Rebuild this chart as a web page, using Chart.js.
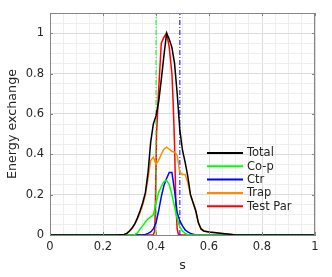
<!DOCTYPE html>
<html>
<head>
<meta charset="utf-8">
<script src="https://cdn.jsdelivr.net/npm/chart.js@4/dist/chart.umd.min.js"></script>
<style>
html,body{margin:0;padding:0;background:#fff;}
#wrap{width:332px;height:277px;}
</style>
</head>
<body>
<div id="wrap"><canvas id="c" width="332" height="277"></canvas></div>
<script>
// ---- data ----
const s = [0, 0.25, 0.28, 0.29, 0.30, 0.31, 0.32, 0.33, 0.34, 0.35, 0.36, 0.37, 0.38, 0.39, 0.40, 0.41, 0.42, 0.43, 0.44, 0.45, 0.46, 0.47, 0.48, 0.49, 0.50, 0.51, 0.52, 0.53, 0.54, 0.55, 0.56, 0.57, 0.58, 0.60, 0.62, 0.65, 0.68, 0.70, 1];
const total = [0, 0, 0.003, 0.008, 0.02, 0.035, 0.055, 0.085, 0.12, 0.16, 0.21, 0.31, 0.46, 0.55, 0.59, 0.66, 0.77, 0.89, 1.0, 0.97, 0.93, 0.85, 0.70, 0.52, 0.42, 0.36, 0.29, 0.20, 0.16, 0.12, 0.06, 0.03, 0.02, 0.015, 0.012, 0.008, 0.004, 0, 0];
const coP = [0, 0, 0, 0, 0, 0, 0.003, 0.01, 0.03, 0.045, 0.065, 0.08, 0.09, 0.10, 0.16, 0.21, 0.24, 0.265, 0.27, 0.25, 0.20, 0.14, 0.08, 0.04, 0.02, 0.008, 0.003, 0, 0, 0, 0, 0, 0, 0, 0, 0, 0, 0, 0];
const ctr = [0, 0, 0, 0, 0, 0, 0, 0, 0, 0, 0.003, 0.008, 0.015, 0.03, 0.06, 0.12, 0.19, 0.245, 0.28, 0.31, 0.31, 0.22, 0.11, 0.07, 0.045, 0.025, 0.015, 0.008, 0.004, 0, 0, 0, 0, 0, 0, 0, 0, 0, 0];
const trap = [0, 0, 0.003, 0.008, 0.02, 0.035, 0.055, 0.08, 0.11, 0.15, 0.20, 0.28, 0.37, 0.385, 0.35, 0.37, 0.40, 0.425, 0.435, 0.425, 0.415, 0.41, 0.395, 0.31, 0.30, 0.30, 0.26, 0.20, 0.16, 0.12, 0.06, 0.03, 0.02, 0.014, 0.011, 0.007, 0.003, 0, 0];
const sTestPar = [0, 0.39, 0.395, 0.397, 0.402, 0.41, 0.42, 0.43, 0.44, 0.45, 0.46, 0.465, 0.47, 0.475, 0.48, 0.485, 1];
const testPar = [0, 0, 0.02, 0.10, 0.50, 0.72, 0.95, 0.98, 1.0, 0.93, 0.80, 0.65, 0.45, 0.15, 0.03, 0, 0];
const vLineCoP = 0.40;
const vLineCtr = 0.49;
const seriesLabels = ['Total', 'Co-p', 'Ctr', 'Trap', 'Test Par'];
const seriesColors = ['#000000', '#00ff00', '#0000ff', '#ff8c00', '#ff0000'];
const xTickLabels = ['0', '0.2', '0.4', '0.6', '0.8', '1'];
const yTickLabels = ['0', '0.2', '0.4', '0.6', '0.8', '1'];
const xTitle = 's';
const yTitle = 'Energy exchange';

// ---- build ----
const pts = (xs, ys) => xs.map((x, i) => ({x: x, y: ys[i]}));
const FONT = 'DejaVu Sans';
const TXT = '#262626';
const isMajor = v => Math.abs(v / 0.2 - Math.round(v / 0.2)) < 1e-6;
const majorLabel = (v, labels) => isMajor(v) ? labels[Math.round(v / 0.2)] : '';

function lineDs(label, xs, ys, color) {
  return {label: label, data: pts(xs, ys), borderColor: color, backgroundColor: color,
    borderWidth: 1.5, pointRadius: 0, tension: 0, fill: false};
}
function vDs(x, color) {
  return {label: '_v', data: [{x: x, y: 0}, {x: x, y: 1.1}], borderColor: color,
    borderWidth: 1, borderDash: [5, 2, 1, 2], pointRadius: 0, fill: false};
}

const datasets = [
  lineDs(seriesLabels[0], s, total, seriesColors[0]),
  lineDs(seriesLabels[1], s, coP, seriesColors[1]),
  lineDs(seriesLabels[2], s, ctr, seriesColors[2]),
  lineDs(seriesLabels[3], s, trap, seriesColors[3]),
  vDs(vLineCoP, seriesColors[1]),
  vDs(vLineCtr, seriesColors[2]),
  lineDs(seriesLabels[4], sTestPar, testPar, seriesColors[4])
];

const framePlugin = {
  id: 'frame',
  afterDatasetsDraw(chart) {
    const {ctx, chartArea: a, scales} = chart;
    ctx.save();
    // box
    ctx.strokeStyle = '#858585';
    ctx.lineWidth = 1;
    ctx.strokeRect(a.left + 0.5, a.top + 0.5, a.right - a.left - 1, a.bottom - a.top);
    // inward tick marks
    const tl = 3;
    ctx.beginPath();
    xTickLabels.forEach((_, i) => {
      const px = Math.round(scales.x.getPixelForValue(i * 0.2)) + 0.5;
      ctx.moveTo(px, a.bottom); ctx.lineTo(px, a.bottom - tl);
      ctx.moveTo(px, a.top); ctx.lineTo(px, a.top + tl);
    });
    yTickLabels.forEach((_, i) => {
      const py = Math.round(scales.y.getPixelForValue(i * 0.2)) + 0.5;
      ctx.moveTo(a.left, py); ctx.lineTo(a.left + tl, py);
      ctx.moveTo(a.right, py); ctx.lineTo(a.right - tl, py);
    });
    ctx.stroke();
    // legend
    const x0 = a.right - 108, len = 36, y0 = a.top + 140, dy = 13.3;
    ctx.font = '11.5px "' + FONT + '"';
    ctx.textBaseline = 'middle';
    ctx.textAlign = 'left';
    seriesLabels.forEach((lab, i) => {
      const y = y0 + i * dy;
      ctx.strokeStyle = seriesColors[i];
      ctx.lineWidth = 2;
      ctx.beginPath(); ctx.moveTo(x0, y); ctx.lineTo(x0 + len, y); ctx.stroke();
      ctx.fillStyle = TXT;
      ctx.fillText(lab, x0 + len + 4, y + 0.5);
    });
    ctx.restore();
  }
};

new Chart(document.getElementById('c'), {
  type: 'line',
  data: {datasets: datasets},
  plugins: [framePlugin],
  options: {
    responsive: false,
    animation: false,
    devicePixelRatio: 1,
    layout: {padding: {top: 13, right: 17, left: 0, bottom: 0}},
    plugins: {legend: {display: false}, tooltip: {enabled: false}},
    scales: {
      x: {
        type: 'linear', min: 0, max: 1,
        afterFit: sc => { sc.height = 42; },
        ticks: {stepSize: 0.05, autoSkip: false, maxRotation: 0, padding: 5,
          color: TXT, font: {family: FONT, size: 11.5},
          callback: v => majorLabel(v, xTickLabels)},
        grid: {drawTicks: false, color: c => isMajor(c.tick.value) ? '#dcdcdc' : '#eeeeee', lineWidth: 1},
        border: {display: true, color: '#858585', width: 1},
        title: {display: true, text: xTitle, color: TXT, font: {family: FONT, size: 12.7}, padding: {top: 0, bottom: 4}}
      },
      y: {
        type: 'linear', min: 0, max: 1.1,
        afterFit: sc => { sc.width = 50; },
        ticks: {stepSize: 0.05, autoSkip: false, padding: 6,
          color: TXT, font: {family: FONT, size: 11.5},
          callback: v => majorLabel(v, yTickLabels)},
        grid: {drawTicks: false, color: c => isMajor(c.tick.value) ? '#dcdcdc' : '#eeeeee', lineWidth: 1},
        border: {display: true, color: '#858585', width: 1},
        title: {display: true, text: yTitle, color: TXT, font: {family: FONT, size: 12.7}, padding: {top: 5, bottom: 0}}
      }
    }
  }
});
</script>
</body>
</html>
